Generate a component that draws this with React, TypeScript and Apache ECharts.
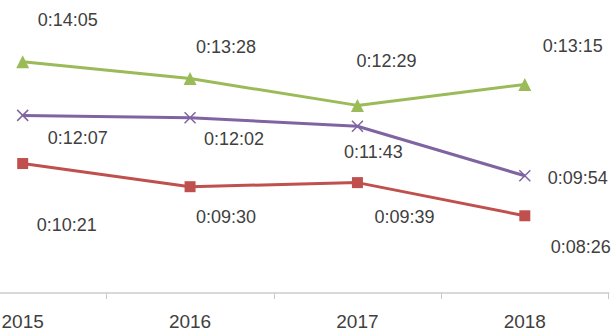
import React, { useEffect, useRef } from "react";
import * as echarts from "echarts";

const years = ["2015", "2016", "2017", "2018"];
// values in seconds
const greenSeries = [845, 808, 749, 795];
const purpleSeries = [727, 722, 703, 594];
const redSeries = [621, 570, 579, 506];

const greenOffsets = [[45, -42], [36, -32], [29, -44], [48, -38]];
const purpleOffsets = [[55, 23], [44, 21], [16, 26], [53, 2]];
const redOffsets = [[44, 61], [36, 30], [47, 34], [56, 31]];

const fmt = (s: number) => {
  const h = Math.floor(s / 3600);
  const m = Math.floor((s % 3600) / 60);
  const sec = s % 60;
  return `${h}:${String(m).padStart(2, "0")}:${String(sec).padStart(2, "0")}`;
};

const labelFont = {
  fontFamily: "Liberation Sans",
  fontSize: 18,
  color: "#404040",
};

function mkData(vals: number[], offs: number[][]) {
  return vals.map((v, i) => ({
    value: v,
    label: { show: true, position: "inside", offset: offs[i], formatter: () => fmt(v), ...labelFont },
  }));
}

const SHIFT = 61.5;

export default function App() {
  const ref = useRef<HTMLDivElement>(null);
  useEffect(() => {
    const chart = echarts.init(ref.current!, null, { renderer: "svg" });
    chart.setOption({
      animation: false,
      backgroundColor: "#ffffff",
      grid: { left: 0, right: 6.5, top: 36.8, bottom: 40 },
      xAxis: {
        type: "category",
        data: years,
        boundaryGap: true,
        axisLine: { lineStyle: { color: "#d9d9d9", width: 2 } },
        axisTick: { show: true, length: 6, lineStyle: { color: "#c8c8c8", width: 1 } },
        axisLabel: { margin: 19, fontFamily: "Liberation Sans", fontSize: 19, color: "#404040" },
      },
      yAxis: {
        type: "value",
        min: 336,
        max: 900,
        show: false,
        splitLine: { show: false },
      },
      series: [
        {
          type: "line",
          data: mkData(greenSeries, greenOffsets),
          lineStyle: { color: "#9BBB59", width: 3 },
          itemStyle: { color: "#9BBB59" },
          symbol: "triangle",
          symbolSize: 13,
        },
        {
          type: "line",
          data: mkData(purpleSeries, purpleOffsets),
          lineStyle: { color: "#8064A2", width: 3 },
          itemStyle: { color: "#8064A2", borderColor: "#8064A2", borderWidth: 1.5 },
          symbol: "path://M0,0L10,10M10,0L0,10",
          symbolSize: 11,
        },
        {
          type: "line",
          data: mkData(redSeries, redOffsets),
          lineStyle: { color: "#C0504D", width: 3 },
          itemStyle: { color: "#C0504D" },
          symbol: "rect",
          symbolSize: 11,
        },
      ],
    });
    return () => chart.dispose();
  }, []);
  return (
    <div
      style={{ position: "fixed", left: 0, top: 0, width: 614, height: 333, overflow: "hidden", background: "#fff" }}
    >
      <div
        ref={ref}
        style={{ position: "absolute", left: -SHIFT, top: 0, width: 614 + SHIFT, height: 333 }}
      />
    </div>
  );
}
